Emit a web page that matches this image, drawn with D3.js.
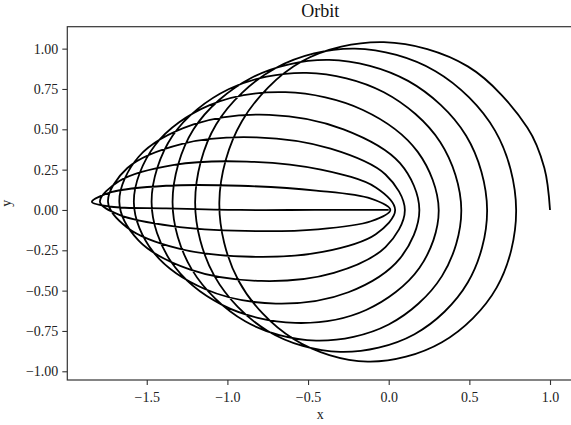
<!DOCTYPE html>
<html>
<head>
<meta charset="utf-8">
<script src="https://cdn.jsdelivr.net/npm/d3@7"></script>
<style>
  body { margin: 0; background: #fff; }
  svg { display: block; }
</style>
</head>
<body>
<main></main>
<script>
// orbit path, one line per revolution (outer loop first),
// each revolution: right crossing, upper half, left turning point, lower half
var orbitX = [
  1.00, 0.965, 0.86, 0.49, -0.03, -0.54, -0.91, -1.05, -0.93, -0.59, -0.13, 0.33, 0.67,
  0.79, 0.66, 0.29, -0.21, -0.70, -1.07, -1.20, -1.08, -0.75, -0.30, 0.16, 0.49,
  0.61, 0.48, 0.12, -0.37, -0.85, -1.21, -1.34, -1.22, -0.89, -0.45, 0.00, 0.33,
  0.45, 0.32, -0.03, -0.51, -0.99, -1.34, -1.47, -1.35, -1.03, -0.58, -0.14, 0.19,
  0.31, 0.18, -0.16, -0.64, -1.11, -1.45, -1.58, -1.46, -1.14, -0.70, -0.25, 0.07,
  0.19, 0.07, -0.28, -0.74, -1.21, -1.55, -1.67, -1.55, -1.23, -0.79, -0.34, -0.02,
  0.10, -0.02, -0.36, -0.82, -1.28, -1.62, -1.74, -1.62, -1.30, -0.85, -0.41, -0.08,
  0.04, -0.08, -0.42, -0.88, -1.33, -1.67, -1.79, -1.67, -1.34, -0.89, -0.44, -0.11,
  0.01, -0.11, -0.45, -0.92, -1.38, -1.72, -1.84,
  -1.72, -1.38, -0.92, -0.46, 0.00
];
var orbitY = [
  0.00, 0.26, 0.51, 0.89, 1.04, 0.92, 0.55, 0.05, -0.44, -0.80, -0.94, -0.82, -0.48,
  0.00, 0.49, 0.86, 1.00, 0.88, 0.53, 0.05, -0.41, -0.75, -0.88, -0.77, -0.45,
  0.00, 0.46, 0.80, 0.93, 0.82, 0.50, 0.05, -0.37, -0.69, -0.81, -0.71, -0.41,
  0.00, 0.42, 0.73, 0.85, 0.75, 0.46, 0.05, -0.32, -0.59, -0.70, -0.62, -0.36,
  0.00, 0.36, 0.62, 0.73, 0.65, 0.40, 0.05, -0.26, -0.49, -0.58, -0.51, -0.30,
  0.00, 0.29, 0.50, 0.59, 0.53, 0.33, 0.05, -0.19, -0.37, -0.44, -0.39, -0.23,
  0.00, 0.22, 0.38, 0.45, 0.41, 0.26, 0.05, -0.11, -0.24, -0.29, -0.26, -0.15,
  0.00, 0.14, 0.25, 0.30, 0.28, 0.18, 0.05, -0.03, -0.10, -0.13, -0.12, -0.07,
  0.00, 0.07, 0.12, 0.15, 0.15, 0.11, 0.05,
  0.02, 0.01, 0.00, 0.00, 0.00
];

var xDomain = [-1.9925, 1.1425];
var yDomain = [-1.054, 1.136];
var xTicks = [-1.5, -1.0, -0.5, 0.0, 0.5, 1.0];
var yTicks = [-1.00, -0.75, -0.50, -0.25, 0.00, 0.25, 0.50, 0.75, 1.00];

var width = 571;
var height = 425;
var plotLeft = 67.3, plotRight = 573, plotTop = 26.7, plotBottom = 380;
var font = '"Liberation Serif", "DejaVu Serif", serif';

var svg = d3.select('main').append('svg')
  .attr('width', width)
  .attr('height', height);

var x = d3.scaleLinear().domain(xDomain).range([plotLeft, plotRight]);
var y = d3.scaleLinear().domain(yDomain).range([plotBottom, plotTop]);

var line = d3.line()
  .x(function(i) { return x(orbitX[i]); })
  .y(function(i) { return y(orbitY[i]); })
  .curve(d3.curveCatmullRom.alpha(0.5));

svg.append('path')
  .datum(d3.range(orbitX.length))
  .attr('d', line)
  .attr('fill', 'none')
  .attr('stroke', '#000')
  .attr('stroke-width', 1.8)
  .attr('stroke-linejoin', 'round');

// axes
svg.append('g')
  .attr('transform', 'translate(0,' + plotBottom + ')')
  .call(d3.axisBottom(x).tickValues(xTicks).tickFormat(d3.format('.1f')).tickSize(5).tickPadding(7));
svg.append('g')
  .attr('transform', 'translate(' + plotLeft + ',0)')
  .call(d3.axisLeft(y).tickValues(yTicks).tickFormat(d3.format('.2f')).tickSize(5).tickPadding(4));

svg.selectAll('.domain').remove();
svg.selectAll('.tick line').attr('stroke', '#333').attr('stroke-width', 1.1);
svg.selectAll('.tick text')
  .attr('fill', '#222')
  .style('font-family', font)
  .style('font-size', '14px');

svg.append('rect')
  .attr('x', plotLeft)
  .attr('y', plotTop)
  .attr('width', plotRight - plotLeft)
  .attr('height', plotBottom - plotTop)
  .attr('fill', 'none')
  .attr('stroke', '#333')
  .attr('stroke-width', 1.2);

svg.append('text')
  .attr('x', (plotLeft + plotRight) / 2)
  .attr('y', 17)
  .attr('text-anchor', 'middle')
  .style('font-family', font)
  .style('font-size', '18px')
  .attr('fill', '#111')
  .text('Orbit');

svg.append('text')
  .attr('x', (plotLeft + plotRight) / 2)
  .attr('y', 419)
  .attr('text-anchor', 'middle')
  .style('font-family', font)
  .style('font-size', '14px')
  .attr('fill', '#222')
  .text('x');

svg.append('text')
  .attr('transform', 'translate(10.5,' + ((plotTop + plotBottom) / 2) + ') rotate(-90)')
  .attr('text-anchor', 'middle')
  .style('font-family', font)
  .style('font-size', '14px')
  .attr('fill', '#222')
  .text('y');
</script>
</body>
</html>
